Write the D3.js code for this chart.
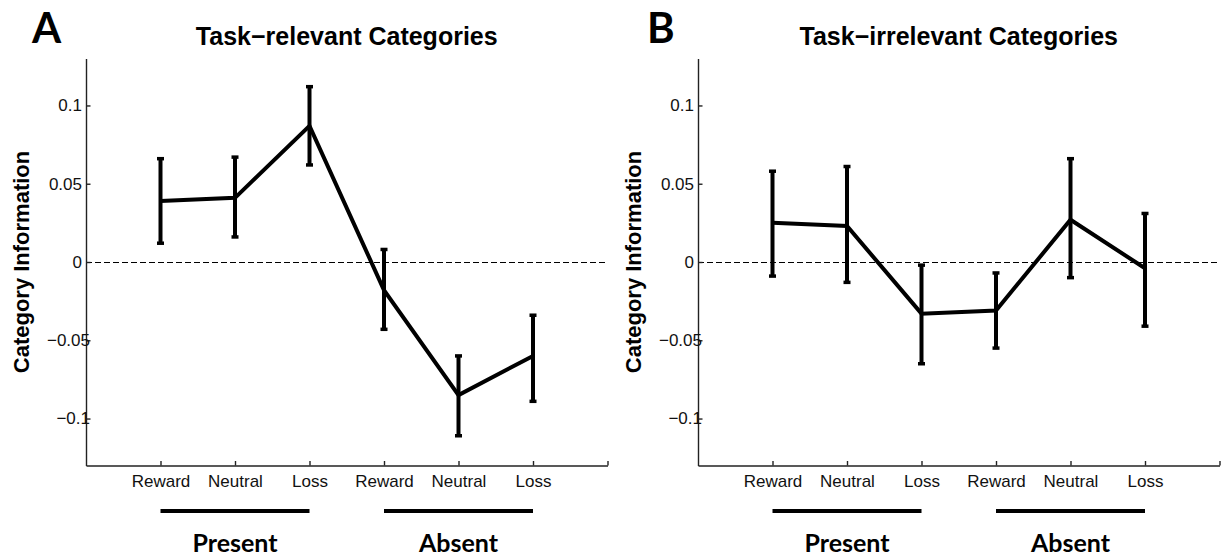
<!DOCTYPE html>
<html>
<head>
<meta charset="utf-8">
<script src="https://cdn.jsdelivr.net/npm/d3@7"></script>
<style>
  body { margin: 0; background: #fff; }
  text { font-family: "Liberation Sans", Arial, sans-serif; }
  .big { font-family: Lato, "Open Sans", sans-serif; font-weight: 700; }
</style>
</head>
<body>
<script>
// categories along x, grouped as Present / Absent
const categories = ["Reward", "Neutral", "Loss", "Reward", "Neutral", "Loss"]
const groups = ["Present", "Absent"]
const yTicks = [0.1, 0.05, 0, -0.05, -0.1]
const yTickLabels = ["0.1", "0.05", "0", "\u22120.05", "\u22120.1"]

// panel A : task-relevant
const relevantMean  = [0.039, 0.041, 0.087, -0.018, -0.085, -0.060]
const relevantUpper = [0.066, 0.067, 0.112, 0.008, -0.060, -0.034]
const relevantLower = [0.012, 0.016, 0.062, -0.043, -0.111, -0.089]

// panel B : task-irrelevant
const irrelevantMean  = [0.025, 0.023, -0.033, -0.031, 0.027, -0.004]
const irrelevantUpper = [0.058, 0.061, -0.002, -0.007, 0.066, 0.031]
const irrelevantLower = [-0.009, -0.013, -0.065, -0.055, -0.010, -0.041]

const panels = [
    { letter: "A", title: "Task\u2212relevant Categories", mean: relevantMean, upper: relevantUpper, lower: relevantLower, left: 86 },
    { letter: "B", title: "Task\u2212irrelevant Categories", mean: irrelevantMean, upper: irrelevantUpper, lower: irrelevantLower, left: 698 }
]

const W = 1221, H = 557
const plotW = 521.5, plotTop = 58.5, plotBottom = 465.5

const svg = d3.select("body").append("svg")
    .attr("width", W)
    .attr("height", H)

const y = d3.scaleLinear().domain([-0.13, 0.13]).range([plotBottom, plotTop])
const x = d3.scaleLinear().domain([0, 7]).range([0, plotW])

panels.forEach(function(p) {
    const g = svg.append("g").attr("transform", "translate(" + p.left + ",0)")

    // panel letter + title
    g.append("text")
        .attr("class", "big")
        .attr("x", p.letter == "A" ? -54 : -51)
        .attr("y", 42.5)
        .attr("font-size", 42)
        .text(p.letter)

    g.append("text")
        .attr("x", plotW / 2)
        .attr("y", 45)
        .attr("text-anchor", "middle")
        .attr("font-size", 25)
        .attr("font-weight", "bold")
        .text(p.title)

    // y label
    g.append("text")
        .attr("transform", "translate(-57," + ((plotTop + plotBottom) / 2) + ") rotate(-90)")
        .attr("text-anchor", "middle")
        .attr("font-size", 22)
        .attr("font-weight", "bold")
        .text("Category Information")

    // zero line
    g.append("line")
        .attr("x1", 0).attr("x2", plotW)
        .attr("y1", y(0) + 0.5).attr("y2", y(0) + 0.5)
        .attr("stroke", "#000")
        .attr("stroke-width", 1)
        .attr("stroke-dasharray", "6,3")
        .attr("shape-rendering", "crispEdges")

    // axes
    const xAxis = d3.axisBottom(x)
        .tickValues([1, 2, 3, 4, 5, 6, 7])
        .tickFormat(function(d) { return d <= 6 ? categories[d - 1] : "" })
        .tickSizeInner(-4.5)
        .tickSizeOuter(0)
        .tickPadding(9)

    const xg = g.append("g")
        .attr("transform", "translate(0," + plotBottom + ")")
        .call(xAxis)
    xg.selectAll("text").attr("font-size", 17).attr("font-family", null).attr("fill", "#111")

    const yAxis = d3.axisLeft(y)
        .tickValues(yTicks)
        .tickFormat(function(d, i) { return yTickLabels[i] })
        .tickSizeInner(-4.5)
        .tickSizeOuter(0)
        .tickPadding(4)

    const yg = g.append("g").call(yAxis)
    yg.selectAll("text")
        .attr("font-size", 17)
        .attr("font-family", null)
        .attr("fill", "#111")
        .attr("x", function(d) { return d < 0 ? 4 : -4 })

    g.selectAll(".domain, .tick line")
        .attr("stroke", "#222")
        .attr("stroke-width", 1.4)

    // error bars
    const eb = g.selectAll(".eb")
        .data(p.mean.map(function(m, i) { return { i: i + 1, m: m, hi: p.upper[i], lo: p.lower[i] } }))
        .enter()
        .append("g")
            .attr("class", "eb")

    eb.append("line")
        .attr("x1", function(d) { return x(d.i) })
        .attr("x2", function(d) { return x(d.i) })
        .attr("y1", function(d) { return y(d.hi) })
        .attr("y2", function(d) { return y(d.lo) })
        .attr("stroke", "#000")
        .attr("stroke-width", 4)

    eb.append("line")
        .attr("x1", function(d) { return x(d.i) - 3.5 })
        .attr("x2", function(d) { return x(d.i) + 3.5 })
        .attr("y1", function(d) { return y(d.hi) })
        .attr("y2", function(d) { return y(d.hi) })
        .attr("stroke", "#000")
        .attr("stroke-width", 3.5)

    eb.append("line")
        .attr("x1", function(d) { return x(d.i) - 3.5 })
        .attr("x2", function(d) { return x(d.i) + 3.5 })
        .attr("y1", function(d) { return y(d.lo) })
        .attr("y2", function(d) { return y(d.lo) })
        .attr("stroke", "#000")
        .attr("stroke-width", 3.5)

    // mean line
    const line = d3.line()
        .x(function(d, i) { return x(i + 1) })
        .y(function(d) { return y(d) })

    g.append("path")
        .attr("d", line(p.mean))
        .attr("fill", "none")
        .attr("stroke", "#000")
        .attr("stroke-width", 4)
        .attr("stroke-linejoin", "miter")

    // group bars and labels
    groups.forEach(function(name, k) {
        const a = k * 3 + 1, b = k * 3 + 3
        g.append("line")
            .attr("x1", x(a)).attr("x2", x(b))
            .attr("y1", 511).attr("y2", 511)
            .attr("stroke", "#000")
            .attr("stroke-width", 4)

        g.append("text")
            .attr("class", "big")
            .attr("x", x(a + 1))
            .attr("y", 552)
            .attr("text-anchor", "middle")
            .attr("font-size", 25)
            .text(name)
    })
})
</script>
</body>
</html>
